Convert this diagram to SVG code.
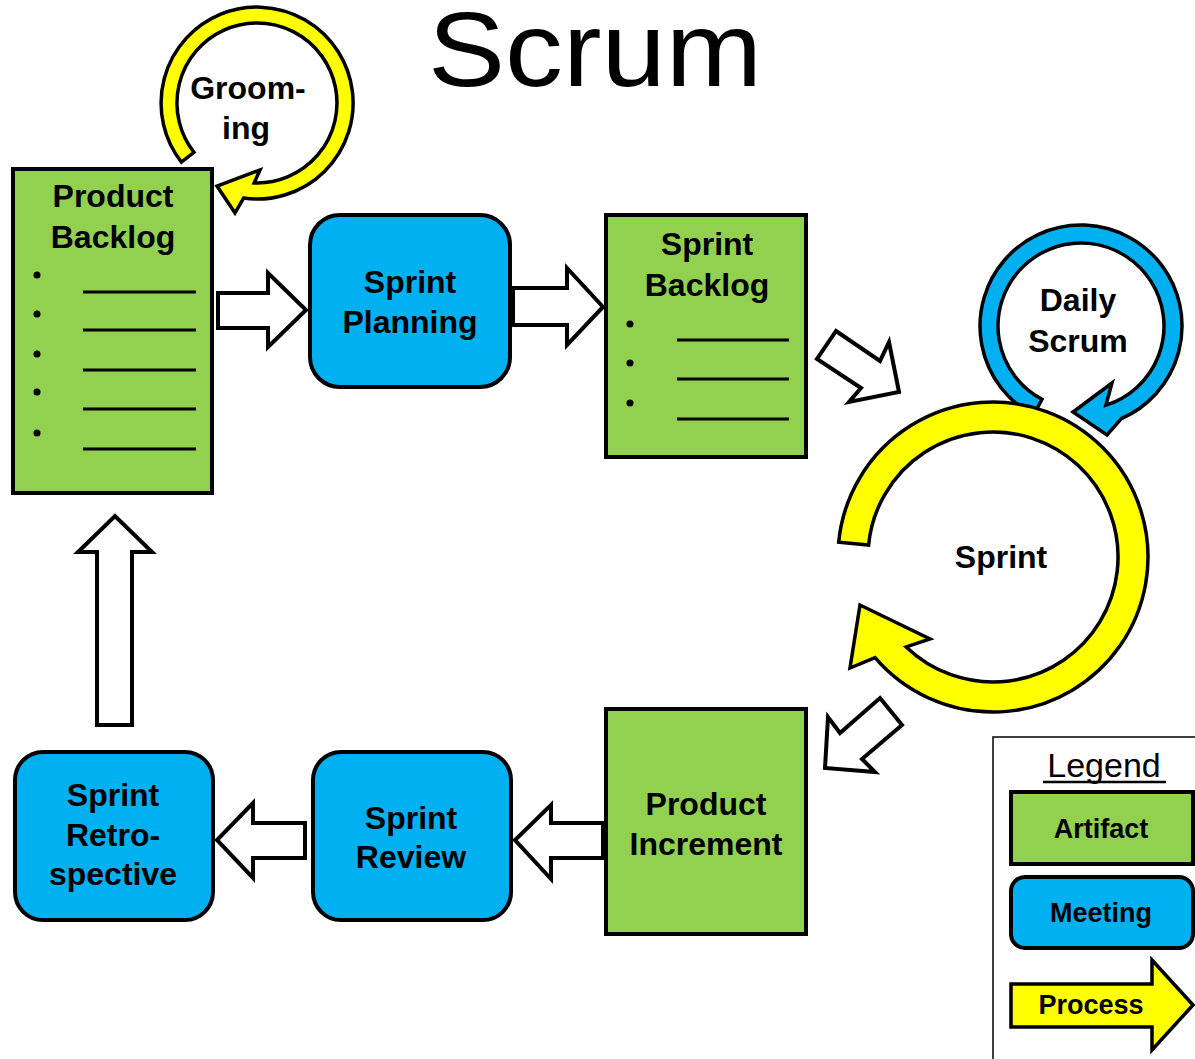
<svg xmlns="http://www.w3.org/2000/svg" width="1195" height="1059" viewBox="0 0 1195 1059">
<style>
.artifact{fill:#92D050;stroke:#000;stroke-width:4}
.meeting{fill:#00B0F0;stroke:#000;stroke-width:4}
.loopY{fill:#FFFF00;stroke:#000;stroke-width:3.5;stroke-linejoin:miter}
.loopB{fill:#00B0F0;stroke:#000;stroke-width:3.5;stroke-linejoin:miter}
.flow{fill:#FFFFFF;stroke:#000;stroke-width:4;stroke-linejoin:miter}
.lbl{font-family:"Liberation Sans",Arial,sans-serif;font-weight:bold;font-size:32px;fill:#000;text-anchor:middle}
.leg{font-family:"Liberation Sans",Arial,sans-serif;font-weight:bold;font-size:27px;fill:#000;text-anchor:middle}
.rule{stroke:#000;stroke-width:3}
.dot{fill:#000}
</style>
<rect width="1195" height="1059" fill="#FFFFFF"/>
<text x="428" y="86" font-family="'Liberation Sans',Arial,sans-serif" font-size="106" textLength="334" lengthAdjust="spacingAndGlyphs" fill="#000">Scrum</text>

<g id="connectors">
<polygon class="flow" points="218,293 268,293 268,273 306,310 268,347 268,328 218,328"/>
<polygon class="flow" points="513,288 567,288 567,268 603,307 567,345 567,325 513,325"/>
<polygon class="flow" points="836,331 880,361 889,342 899,392 849,402 861,388 817,359"/>
<polygon class="flow" points="880,698 902,725 862,759 875,772 825,768 828,717 840,733"/>
<polygon class="flow" points="603,823 551,823 551,805 515,840 551,879 551,858 603,858"/>
<polygon class="flow" points="305,823 253,823 253,803 217,840 253,878 253,858 305,858"/>
<polygon class="flow" points="97,725 97,552 78,552 115,516 152,552 132,552 132,725"/>
</g>

<g id="grooming">
<path class="loopY" d="M181.4,162.1 A96,96 0 1 1 243.6,198.1 L235,213 L217,186 L260,170 L254.2,182.9 A80,80 0 1 0 194,152.3 Z"/>
<text class="lbl" x="248" y="99">Groom-</text>
<text class="lbl" x="246" y="139">ing</text>
</g>

<g id="product-backlog">
<rect class="artifact" x="13" y="169" width="199" height="324"/>
<text class="lbl" x="113" y="207">Product</text>
<text class="lbl" x="113" y="248">Backlog</text>
<circle class="dot" cx="37" cy="275" r="3.5"/>
<circle class="dot" cx="37" cy="314" r="3.5"/>
<circle class="dot" cx="37" cy="354" r="3.5"/>
<circle class="dot" cx="37" cy="392" r="3.5"/>
<circle class="dot" cx="37" cy="433" r="3.5"/>
<line class="rule" x1="83" y1="292" x2="196" y2="292"/>
<line class="rule" x1="83" y1="330" x2="196" y2="330"/>
<line class="rule" x1="83" y1="370" x2="196" y2="370"/>
<line class="rule" x1="83" y1="409" x2="196" y2="409"/>
<line class="rule" x1="83" y1="449" x2="196" y2="449"/>
</g>

<g id="sprint-planning">
<rect class="meeting" x="310" y="215" width="200" height="172" rx="30"/>
<text class="lbl" x="410" y="293">Sprint</text>
<text class="lbl" x="410" y="333">Planning</text>
</g>

<g id="sprint-backlog">
<rect class="artifact" x="606" y="215" width="200" height="242"/>
<text class="lbl" x="707" y="255">Sprint</text>
<text class="lbl" x="707" y="296">Backlog</text>
<circle class="dot" cx="630" cy="324" r="3.5"/>
<circle class="dot" cx="630" cy="363" r="3.5"/>
<circle class="dot" cx="630" cy="403" r="3.5"/>
<line class="rule" x1="677" y1="340" x2="789" y2="340"/>
<line class="rule" x1="677" y1="379" x2="789" y2="379"/>
<line class="rule" x1="677" y1="419" x2="789" y2="419"/>
</g>

<g id="daily-scrum">
<path class="loopB" d="M1033.6,415.2 A101,101 0 1 1 1121.4,418.6 L1107,435 L1073,412 L1112,383 L1105.9,405.2 A83,83 0 1 0 1042,399.3 Z"/>
<text class="lbl" x="1078" y="311">Daily</text>
<text class="lbl" x="1078" y="352">Scrum</text>
</g>

<g id="sprint">
<path class="loopY" d="M838.7,542.2 A155,155 0 1 1 875.1,657.7 L850,668 L860,605 L930,639 L906.2,646.9 A125,125 0 1 0 868.6,545 Z"/>
<text class="lbl" x="1001" y="568">Sprint</text>
</g>

<g id="product-increment">
<rect class="artifact" x="606" y="709" width="200" height="225"/>
<text class="lbl" x="706" y="815">Product</text>
<text class="lbl" x="706" y="855">Increment</text>
</g>

<g id="sprint-review">
<rect class="meeting" x="313" y="752" width="198" height="168" rx="28"/>
<text class="lbl" x="411" y="829">Sprint</text>
<text class="lbl" x="411" y="868">Review</text>
</g>

<g id="sprint-retrospective">
<rect class="meeting" x="15" y="752" width="198" height="168" rx="28"/>
<text class="lbl" x="113" y="806">Sprint</text>
<text class="lbl" x="113" y="846">Retro-</text>
<text class="lbl" x="113" y="885">spective</text>
</g>

<g id="legend">
<rect x="993" y="737" width="220" height="340" fill="#FFFFFF" stroke="#000" stroke-width="1.5"/>
<text x="1104" y="777" font-family="'Liberation Sans',Arial,sans-serif" font-size="34" text-anchor="middle" fill="#000">Legend</text>
<line x1="1043" y1="782" x2="1166" y2="782" stroke="#000" stroke-width="2.5"/>
<rect class="artifact" x="1011" y="792" width="182" height="72"/>
<text class="leg" x="1101" y="838">Artifact</text>
<rect class="meeting" x="1011" y="877" width="182" height="71" rx="14"/>
<text class="leg" x="1101" y="922">Meeting</text>
<polygon class="loopY" points="1011,984 1152,984 1152,960 1193,1005 1152,1050 1152,1027 1011,1027" stroke-width="4"/>
<text class="leg" x="1091" y="1014">Process</text>
</g>
</svg>
